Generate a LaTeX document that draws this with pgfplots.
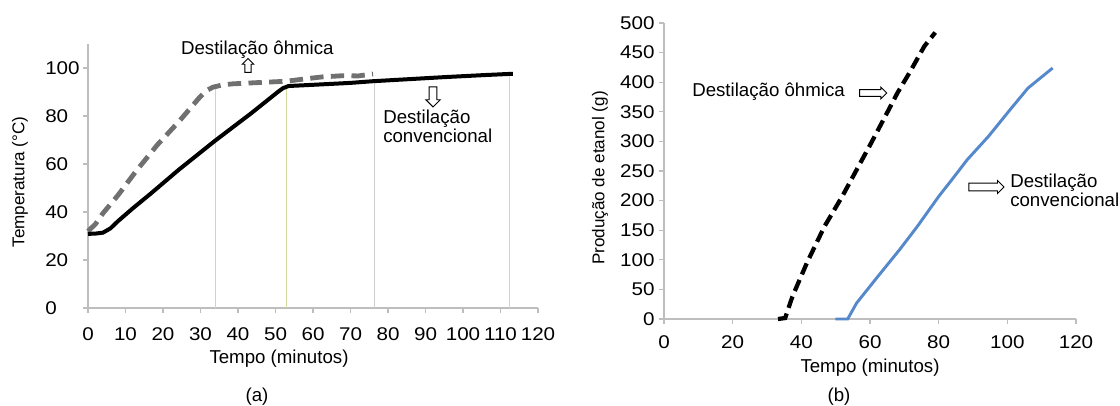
\documentclass[border=0pt]{standalone}
\usepackage{fontspec}
\setmainfont{Liberation Sans}
\newfontfamily\wide[FakeStretch=1.12]{Liberation Sans}
\usepackage{pgfplots}
\pgfplotsset{compat=1.18}
\usetikzlibrary{shapes.arrows}
\definecolor{axgray}{RGB}{190,190,190}
\definecolor{ohmgray}{RGB}{112,112,112}
\definecolor{vgreen}{RGB}{212,218,160}
\definecolor{vpink}{RGB}{226,204,204}
\definecolor{vgray}{RGB}{205,205,205}
\definecolor{lblue}{RGB}{85,137,204}
\newcommand{\fs}{\fontsize{14}{14}\selectfont}
\newcommand{\ft}{\wide\fontsize{13.8}{14}\selectfont}
\pgfplotsset{
  common/.style={
    scale only axis, axis x line=bottom, axis y line=left,
    axis line style={-, axgray, line width=0.9pt},
    tick style={axgray, line width=0.9pt},
    tick align=outside, major tick length=3.5pt,
    ticklabel style={font=\ft},
    /pgf/number format/assume math mode=true,
    clip=false,
  }
}
\tikzset{harrow/.style={single arrow, draw=black, fill=white, line width=0.7pt, single arrow head indent=0pt}}
\begin{document}
\begin{tikzpicture}
\useasboundingbox (0,0) rectangle (840pt,-303.75pt);
% ---------------- (a)
\begin{axis}[common, at={(66pt,-231pt)}, anchor=south west,
  width=337.5pt, height=198pt, xmin=0, xmax=120, ymin=0, ymax=110,
  xtick={0,10,...,120}, ytick={0,20,...,100},
  xticklabel style={yshift=-8pt},
  yticklabel style={text width=25pt, align=left},
]
\addplot[vgreen, line width=0.9pt] coordinates {(34,0) (34,92)};
\addplot[vgreen, line width=0.9pt] coordinates {(53,0) (53,92.4)};
\addplot[vgray, line width=0.9pt] coordinates {(76.5,0) (76.5,95)};
\addplot[vpink, line width=0.9pt] coordinates {(112.5,0) (112.5,97.6)};
\addplot[ohmgray, line width=3.6pt, dash pattern=on 10pt off 5.5pt] coordinates {
(0,32)(2,35)(4,39.5)(8,47)(12.7,56.8)(18.5,68)(24.2,77.6)(29.5,87.3)(31.5,90.5)(33.3,92)(36,93)(38.6,93.4)(45,93.9)(53,94.5)(58,95.5)(62.5,96.3)(68,96.8)(72,96.7)(76,97.5)};
\addplot[black, line width=3pt] coordinates {
(0,30.9)(2,31)(4,31.4)(6,33.2)(8,36.2)(12,41.6)(16.6,47.5)(24.2,57.6)(33.8,69.6)(43.4,81)(47,85.5)(50.6,90)(52,91.6)(53.5,92.5)(60,93)(70,93.8)(76,94.5)(85,95.3)(95,96.2)(105,97)(113.3,97.6)};
\end{axis}
% ---------------- (b)
\begin{axis}[common, at={(498pt,-239.25pt)}, anchor=south west,
  width=309pt, height=222pt, xmin=0, xmax=120, ymin=0, ymax=500,
  xtick={0,20,...,120}, ytick={0,50,...,500},
  xticklabel style={yshift=-5.5pt},
]
\addplot[black, line width=3.2pt, dash pattern=on 9pt off 4.5pt] coordinates {
(33.2,0)(35.3,1.7)(37.4,38)(41.6,94.6)(46.75,156.5)(51.9,207)(56.1,252)(60.3,297)(64.4,342)(68,382)(71.7,418)(75.8,460.5)(79,484)};
\addplot[lblue, line width=2.2pt] coordinates {
(49.9,0)(53.5,0)(56.1,27)(62.3,72)(68.6,117)(73.8,156.5)(80,207)(84.2,238)(88.3,269)(94.5,308.5)(100.8,353.6)(106,390)(113.2,424)};
\end{axis}
% ---------------- texts
\node[font=\fs] at (193pt,-37.5pt) {Destilação ôhmica};
\node[harrow, rotate=90, minimum height=10.5pt, inner sep=2pt, single arrow head extend=2pt] at (186pt,-50.25pt) {};
\node[harrow, rotate=-90, minimum height=15pt, inner sep=2.5pt, single arrow head extend=2.5pt] at (324.75pt,-71.25pt) {};
\node[font=\fs, anchor=west, align=left, inner sep=0pt] at (287.25pt,-94.5pt) {Destilação\\convencional};
\node[font=\fs, anchor=west, inner sep=0pt] at (519pt,-69pt) {Destilação ôhmica};
\node[harrow, minimum height=20.25pt, inner sep=2.2pt, single arrow head extend=1.8pt] at (653.6pt,-69.75pt) {};
\node[harrow, minimum height=26.25pt, inner sep=2.5pt, single arrow head extend=2pt] at (738.4pt,-140.25pt) {};
\node[font=\fs, anchor=west, align=left, inner sep=0pt] at (757.5pt,-142.9pt) {Destilação\\convencional};
\node[font=\fs] at (209.25pt,-269pt) {Tempo (minutos)};
\node[font=\fs] at (652.5pt,-276pt) {Tempo (minutos)};
\node[font=\fs] at (192.75pt,-297.75pt) {(a)};
\node[font=\fs] at (629.25pt,-297.75pt) {(b)};
\node[font=\fontsize{12.8}{12.8}\selectfont, rotate=90] at (15pt,-136.5pt) {Temperatura (°C)};
\node[font=\fontsize{12.8}{12.8}\selectfont, rotate=90] at (450pt,-133.5pt) {Produção de etanol (g)};
\end{tikzpicture}
\end{document}
